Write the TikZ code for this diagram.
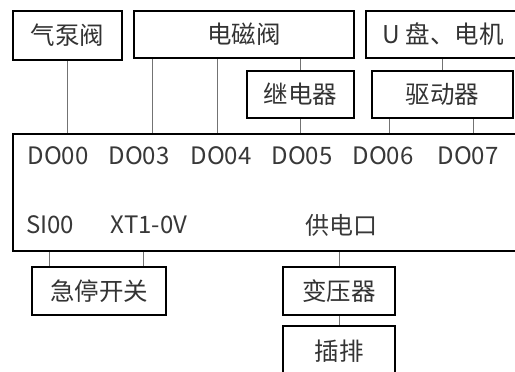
\documentclass[tikz,border=0pt]{standalone}
\usepackage{fontspec}
\setmainfont{Noto Sans CJK SC}
\begin{document}
\begin{tikzpicture}[x=1pt,y=-1pt,
  box/.style={draw=black,line width=2pt,minimum width=#1,minimum height=48pt,inner sep=0pt,
    font=\fontsize{24.5}{24.5}\selectfont,text=black!80},
  conn/.style={draw=black!55,line width=0.8pt},
  lab/.style={font=\fontsize{24}{24}\selectfont,text=black!78,inner sep=0pt}]
\useasboundingbox (0,0) rectangle (515,372);
\clip (0,0) rectangle (515,372);
\fill[white] (0,0) rectangle (515,372);
% top boxes
\node[box=109pt,minimum height=49pt] (qb) at (67.5,35.5) {气泵阀};
\node[box=220pt,minimum height=47pt] (dc) at (244,34.5) {电磁阀};
\node[box=154pt,minimum height=47pt] (up) at (443,34.5) {U 盘、电机};
\node[box=107pt,minimum height=47pt] (jd) at (300.5,94.5) {继电器};
\node[box=141pt,minimum height=47pt] (qd) at (442.5,94.5) {驱动器};
% main box
\node[draw=black,line width=2pt,minimum width=517pt,minimum height=117pt,inner sep=0pt] (main) at (271.5,192.5) {};
% bottom boxes
\node[box=134pt] (jt) at (99,291) {急停开关};
\node[box=112pt] (by) at (339,291) {变压器};
\node[box=112pt,minimum height=50pt] (cp) at (339,351) {插排};
% labels
\node[lab] (d0) at (58,156) {DO00};
\node[lab] (d3) at (139,156) {DO03};
\node[lab] (d4) at (221,156) {DO04};
\node[lab] (d5) at (302,156) {DO05};
\node[lab] (d6) at (383,156) {DO06};
\node[lab] (d7) at (468,156) {DO07};
\node[lab] (si) at (50,225) {SI00};
\node[lab] (xt) at (149,225) {XT1-0V};
\node[lab] (gd) at (341,225) {供电口};
% connectors
\coordinate (c3) at (152,0);
\coordinate (c4) at (217,0);
\coordinate (c6) at (389,0);
\coordinate (c7) at (473,0);
\coordinate (b1) at (49,0);
\coordinate (b2) at (143,0);
\path[conn] (qb.south) -- (qb.south |- main.north);
\path[conn] (dc.south -| c3) -- (main.north -| c3);
\path[conn] (dc.south -| c4) -- (main.north -| c4);
\path[conn] (dc.south -| jd.north) -- (jd.north);
\path[conn] (jd.south) -- (jd.south |- main.north);
\path[conn] (up.south -| qd.north) -- (qd.north);
\path[conn] (qd.south -| c6) -- (main.north -| c6);
\path[conn] (qd.south -| c7) -- (main.north -| c7);
\path[conn] (main.south -| b1) -- (jt.north -| b1);
\path[conn] (main.south -| b2) -- (jt.north -| b2);
\path[conn] (main.south -| by.north) -- (by.north);
\path[conn] (by.south) -- (cp.north);
\end{tikzpicture}
\end{document}
